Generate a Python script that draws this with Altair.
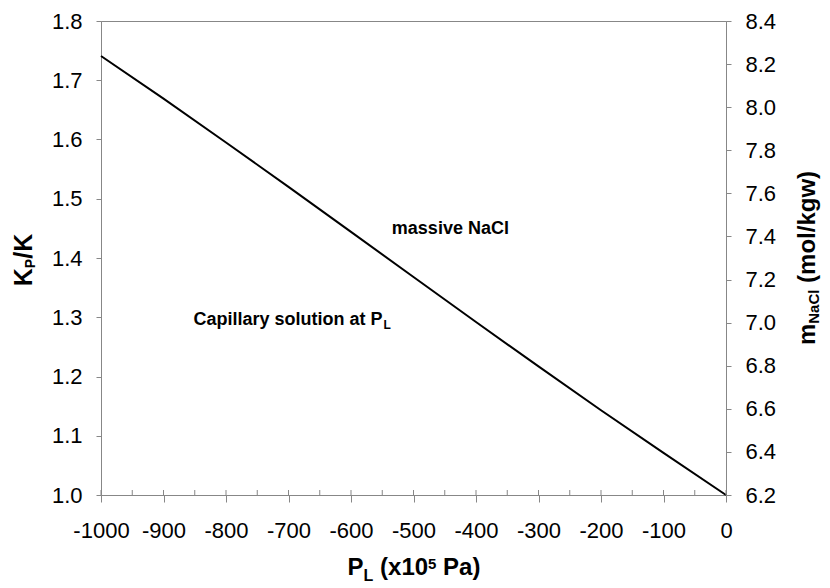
import altair as alt
import pandas as pd

# ---- data ----
p_l = [-1000, -900, -800, -700, -600, -500, -400, -300, -200, -100, 0]
kp_k = [1.741, 1.669, 1.595, 1.520, 1.444, 1.368, 1.292, 1.217, 1.143, 1.071, 1.000]

x_ticks = [-1000, -900, -800, -700, -600, -500, -400, -300, -200, -100, 0]
x_minor = [-1000, -950, -900, -850, -800, -750, -700, -650, -600, -550, -500,
           -450, -400, -350, -300, -250, -200, -150, -100, -50, 0]
left_ticks = [1.0, 1.1, 1.2, 1.3, 1.4, 1.5, 1.6, 1.7, 1.8]
right_ticks = [6.2, 6.4, 6.6, 6.8, 7.0, 7.2, 7.4, 7.6, 7.8, 8.0, 8.2, 8.4]
x_domain = [-1000, 0]
left_domain = [1.0, 1.8]
right_domain = [6.2, 8.4]

ann_text = ["massive NaCl", "Capillary solution at P"]
ann_x = [-441, -852]
ann_y = [1.441, 1.2865]

# ---- layout / style ----
W, H = 625, 474
PAD = {"left": 93, "top": 13, "right": 96, "bottom": 88}
OX, OY = 8 + PAD["left"], 8 + PAD["top"]   # page position of plot origin
FONT = "Liberation Sans, Arial, sans-serif"
GRAY = "#878787"

ARIAL_BOLD = {' ': 278, '(': 333, ')': 333, '/': 278, '0': 556, '1': 556, '5': 556,
              'a': 556, 'C': 722, 'c': 556, 'e': 556, 'g': 611, 'i': 278, 'K': 722,
              'k': 556, 'L': 611, 'l': 278, 'm': 889, 'N': 722, 'n': 611, 'o': 611,
              'P': 667, 'p': 611, 'r': 389, 's': 556, 't': 333, 'u': 611, 'v': 556,
              'w': 778, 'x': 556, 'y': 556}


def tw(s, size):
    return sum(ARIAL_BOLD.get(c, 556) for c in s) / 1000.0 * size


def text_piece(t, size, px, py, angle=0):
    return alt.Chart(alt.Data(values=[{}])).mark_text(
        text=t, fontSize=size, font=FONT, fontWeight="bold", align="left",
        baseline="alphabetic", color="black", angle=angle
    ).encode(x=alt.value(px - OX), y=alt.value(py - OY))


def split_lead(t, s):
    stripped = t.lstrip(" ")
    return stripped, tw(t[: len(t) - len(stripped)], s)


def title_h(parts, center_x, baseline_y):
    total = sum(tw(t, s) for t, s, _ in parts)
    x = center_x - total / 2
    out = []
    for t, s, d in parts:
        body, lead = split_lead(t, s)
        out.append(text_piece(body, s, x + lead, baseline_y + d))
        x += tw(t, s)
    return out


def title_v(parts, center_y, baseline_x):
    total = sum(tw(t, s) for t, s, _ in parts)
    y = center_y + total / 2
    out = []
    for t, s, d in parts:
        body, lead = split_lead(t, s)
        out.append(text_piece(body, s, baseline_x + d, y - lead, angle=270))
        y -= tw(t, s)
    return out


X_AXIS = alt.Axis(values=x_ticks, title=None, tickSize=7,
                  labelExpr="datum.value < 0 ? '-' + format(-datum.value, 'd') : format(datum.value, 'd')",
                  labelPadding=18, labelFlush=False, labelOverlap=False)
Y_AXIS = alt.Axis(values=left_ticks, format=".1f", title=None, tickSize=5,
                  labelPadding=14, labelFlush=False, labelOverlap=False)

df = pd.DataFrame({"P_L": p_l, "Kp_K": kp_k})
xscale = alt.Scale(domain=x_domain, nice=False, zero=False)
yscale = alt.Scale(domain=left_domain, nice=False, zero=False)

xenc = alt.X("P_L:Q", scale=xscale, axis=X_AXIS)
yenc = alt.Y("Kp_K:Q", scale=yscale, axis=Y_AXIS)

line = alt.Chart(df).mark_line(color="black", strokeWidth=2).encode(x=xenc, y=yenc)

minor = alt.Chart(pd.DataFrame({"P_L": x_minor})).mark_rule(
    color=GRAY, strokeWidth=1
).encode(x=xenc, y=alt.value(H - 5), y2=alt.value(H))

ann_df = pd.DataFrame({"P_L": ann_x, "Kp_K": ann_y, "label": ann_text})
ann1 = alt.Chart(ann_df.iloc[[0]]).mark_text(
    font=FONT, fontSize=18, fontWeight="bold", align="center",
    baseline="alphabetic", color="black"
).encode(x=xenc, y=yenc, text="label:N")
ann2 = alt.Chart(ann_df.iloc[[1]]).mark_text(
    font=FONT, fontSize=18, fontWeight="bold", align="left",
    baseline="alphabetic", color="black"
).encode(x=xenc, y=yenc, text="label:N")
ann2_sub = alt.Chart(ann_df.iloc[[1]]).mark_text(
    font=FONT, fontSize=12, fontWeight="bold", align="left",
    baseline="alphabetic", color="black", text="L",
    dx=tw("Capillary solution at P", 18) + 1, dy=4
).encode(x=xenc, y=yenc)

titles = []
titles += title_h([("P", 24, 0), ("L", 16, 6), (" (x10", 24, 0), ("5", 15, -6), (" Pa)", 24, 0)],
                  414, 575)
titles += title_v([("K", 25, 0), ("P", 14, 3), ("/K", 25, 0)], 260, 32)
titles += title_v([("m", 24, 0), ("NaCl", 15, 4), (" (mol/kgw)", 24, 0)], 258, 815)

left = alt.layer(line, minor, ann1, ann2, ann2_sub, *titles)

right = alt.Chart(pd.DataFrame({"P_L": x_domain, "m": right_domain})).mark_point(
    opacity=0, size=1
).encode(
    x=xenc,
    y=alt.Y("m:Q", scale=alt.Scale(domain=right_domain, nice=False, zero=False),
            axis=alt.Axis(orient="right", values=right_ticks, format=".1f", title=None,
                          tickSize=5, labelPadding=14, labelFlush=False,
                          labelOverlap=False)),
)

chart = alt.layer(left, right).resolve_scale(y="independent").properties(
    width=W, height=H, padding=PAD,
    autosize=alt.AutoSizeParams(type="none"),
    background="white",
).configure_view(
    stroke=GRAY, strokeWidth=1
).configure_axis(
    domainColor=GRAY, tickColor=GRAY, domainWidth=1, tickWidth=1,
    labelColor="black", labelFont=FONT, labelFontSize=22, grid=False,
)

chart.save("out.html", embed_options={"renderer": "svg", "actions": False})
